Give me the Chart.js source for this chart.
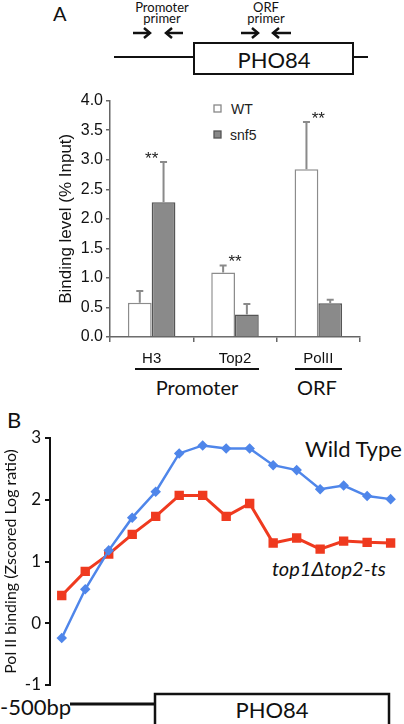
<!DOCTYPE html>
<html>
<head>
<meta charset="utf-8">
<script src="https://cdn.jsdelivr.net/npm/chart.js@4"></script>
<style>
  body { margin: 0; background: #fff; }
  #page { position: relative; width: 404px; height: 724px; overflow: hidden; }
  #deco { position: absolute; left: 0; top: 0; }
  #boxA { position: absolute; left: 0; top: 88px; width: 404px; height: 312px; }
  #boxB { position: absolute; left: 0; top: 400px; width: 404px; height: 300px; }
</style>
</head>
<body>
<div id="page">
  <svg id="deco" width="404" height="724" xmlns="http://www.w3.org/2000/svg">
    <g font-family="Lato, 'Open Sans', sans-serif" fill="#111">
      <!-- panel A gene drawing -->
      <text x="53" y="21" font-size="20">A</text>
      <text x="162" y="12" font-size="13" text-anchor="middle">Promoter</text>
      <text x="162" y="23" font-size="13" text-anchor="middle">primer</text>
      <text x="266" y="12" font-size="13" text-anchor="middle">ORF</text>
      <text x="266" y="23" font-size="13" text-anchor="middle">primer</text>
      <text x="274" y="68" font-size="22" text-anchor="middle">PHO84</text>
      <text x="197" y="395" font-size="20" text-anchor="middle">Promoter</text>
      <text x="317" y="395" font-size="20" text-anchor="middle">ORF</text>
      <!-- panel B -->
      <text x="7" y="428" font-size="22">B</text>
      <text x="305" y="457" font-size="22">Wild Type</text>
      <text x="272" y="576" font-size="20" font-style="italic">top1Δtop2-ts</text>
      <text x="0" y="715" font-size="22">-500bp</text>
      <text x="272" y="718" font-size="22" text-anchor="middle">PHO84</text>
    </g>
    <g stroke="#111" fill="none" stroke-width="2.5">
      <line x1="133" y1="33" x2="150" y2="33"/><polyline points="144,28 150,33 144,38"/>
      <line x1="166" y1="33" x2="183" y2="33"/><polyline points="172,28 166,33 172,38"/>
      <line x1="241" y1="33" x2="258" y2="33"/><polyline points="252,28 258,33 252,38"/>
      <line x1="273" y1="33" x2="291" y2="33"/><polyline points="279,28 273,33 279,38"/>
    </g>
    <g stroke="#111" fill="none" stroke-width="2">
      <line x1="114" y1="57" x2="194" y2="57"/>
      <line x1="353" y1="57" x2="368" y2="57"/>
      <rect x="194" y="43" width="159" height="31"/>
      <line x1="135" y1="369" x2="259" y2="369"/>
      <line x1="295" y1="369" x2="342" y2="369"/>
      <line x1="70" y1="704" x2="155" y2="704" stroke-width="3"/>
      <rect x="155" y="694" width="234" height="40" stroke-width="2.5"/>
    </g>
    <!-- legend of panel A -->
    <rect x="214" y="105" width="7" height="7" fill="#fff" stroke="#888" stroke-width="1.3"/>
    <rect x="214" y="131" width="7" height="7" fill="#888" stroke="#555" stroke-width="1.3"/>
    <g font-family="'Liberation Sans', Arial, sans-serif" font-size="14" fill="#222">
      <text x="231" y="114">WT</text>
      <text x="230" y="140">snf5</text>
    </g>
  </svg>
  <div id="boxA"><canvas id="chartA"></canvas></div>
  <div id="boxB"><canvas id="chartB"></canvas></div>
</div>
<script>
// panel A : binding level (% input)
var categories = ['H3', 'Top2', 'PolII'];
var wtValues = [0.58, 1.09, 2.84];
var wtErrors = [0.20, 0.12, 0.80];
var snf5Values = [2.28, 0.38, 0.57];
var snf5Errors = [0.68, 0.18, 0.06];
var stars = ['**', '**', '**'];

// panel B : Pol II binding along PHO84
var probes = [0, 1, 2, 3, 4, 5, 6, 7, 8, 9, 10, 11, 12, 13, 14];
var wildType = [-0.24, 0.55, 1.18, 1.71, 2.13, 2.75, 2.88, 2.83, 2.83, 2.56, 2.48, 2.17, 2.23, 2.06, 2.01];
var topMutant = [0.45, 0.84, 1.12, 1.44, 1.73, 2.07, 2.07, 1.73, 1.94, 1.30, 1.38, 1.20, 1.33, 1.31, 1.30];

var arial = "'Liberation Sans', Arial, sans-serif";
var lato = "Lato, 'Open Sans', sans-serif";

// error bars (upper half only) + significance stars
var errorBars = {
  id: 'errorBars',
  afterDatasetsDraw: function(chart) {
    var ctx = chart.ctx;
    var y = chart.scales.y;
    var errs = [wtErrors, snf5Errors];
    var vals = [wtValues, snf5Values];
    ctx.save();
    ctx.strokeStyle = '#8a8a8a';
    ctx.lineWidth = 2;
    for (var d = 0; d < 2; d++) {
      chart.getDatasetMeta(d).data.forEach(function(bar, i) {
        var top = y.getPixelForValue(vals[d][i] + errs[d][i]);
        ctx.beginPath();
        ctx.moveTo(bar.x, bar.y);
        ctx.lineTo(bar.x, top);
        ctx.moveTo(bar.x - 3.5, top);
        ctx.lineTo(bar.x + 3.5, top);
        ctx.stroke();
      });
    }
    ctx.fillStyle = '#222';
    ctx.font = '17px ' + arial;
    ctx.textAlign = 'center';
    ctx.textBaseline = 'alphabetic';
    stars.forEach(function(s, i) {
      var hi = Math.max(wtValues[i] + wtErrors[i], snf5Values[i] + snf5Errors[i]);
      ctx.fillText(s, chart.scales.x.getPixelForValue(i), y.getPixelForValue(hi) + 2);
    });
    ctx.restore();
  }
};

new Chart(document.getElementById('chartA'), {
  type: 'bar',
  data: {
    labels: categories,
    datasets: [{
      label: 'WT',
      data: wtValues,
      backgroundColor: '#ffffff',
      borderColor: '#8c8c8c',
      borderWidth: 1.5,
      categoryPercentage: 0.57,
      barPercentage: 1.0
    }, {
      label: 'snf5',
      data: snf5Values,
      backgroundColor: '#8a8a8a',
      borderColor: '#555555',
      borderWidth: 1.5,
      categoryPercentage: 0.57,
      barPercentage: 1.0
    }]
  },
  options: {
    responsive: true,
    maintainAspectRatio: false,
    animation: false,
    layout: { padding: { left: 0, right: 44, top: 11, bottom: 0 } },
    plugins: { legend: { display: false }, tooltip: { enabled: false } },
    scales: {
      x: {
        afterFit: function(s) { s.height = 63; },
        grid: { drawOnChartArea: false, tickLength: 5, color: '#666', lineWidth: 1.5 },
        border: { color: '#666', width: 1.5 },
        ticks: { color: '#111', font: { family: arial, size: 15 }, padding: 8 }
      },
      y: {
        min: 0,
        max: 4,
        afterFit: function(s) { s.width = 110; },
        grid: { drawOnChartArea: false, tickLength: 4, color: '#666', lineWidth: 1.5 },
        border: { color: '#666', width: 1.5 },
        ticks: {
          stepSize: 0.5,
          padding: 3,
          color: '#111',
          font: { family: arial, size: 16 },
          callback: function(v) { return v.toFixed(1); }
        },
        title: {
          display: true,
          text: 'Binding level (% Input)',
          color: '#111',
          font: { family: arial, size: 17 },
          padding: { top: 56, bottom: 0 }
        }
      }
    }
  },
  plugins: [errorBars]
});

new Chart(document.getElementById('chartB'), {
  type: 'line',
  data: {
    datasets: [{
      label: 'Wild Type',
      data: probes.map(function(p, i) { return { x: p, y: wildType[i] }; }),
      borderColor: '#4f86ea',
      backgroundColor: '#4f86ea',
      borderWidth: 2.5,
      pointStyle: 'rectRot',
      pointRadius: 3.5,
      clip: false
    }, {
      label: 'top1Δtop2-ts',
      data: probes.map(function(p, i) { return { x: p, y: topMutant[i] }; }),
      borderColor: '#ef3a1f',
      backgroundColor: '#ef3a1f',
      borderWidth: 3,
      pointStyle: 'rect',
      pointRadius: 4.5,
      clip: false
    }]
  },
  options: {
    responsive: true,
    maintainAspectRatio: false,
    animation: false,
    layout: { padding: { left: 0, right: 4, top: 38, bottom: 15 } },
    plugins: { legend: { display: false }, tooltip: { enabled: false } },
    scales: {
      x: { type: 'linear', min: -0.5, max: 14.25, display: false },
      y: {
        min: -1,
        max: 3,
        afterFit: function(s) { s.width = 50; },
        grid: { drawOnChartArea: false, tickLength: 5, color: '#111', lineWidth: 2 },
        border: { color: '#111', width: 2 },
        ticks: { stepSize: 1, padding: 4, color: '#111', font: { family: lato, size: 17 } },
        title: {
          display: true,
          text: 'Pol II binding (Zscored Log ratio)',
          color: '#111',
          font: { family: lato, size: 16 },
          padding: { top: 1, bottom: 0 }
        }
      }
    }
  }
});
</script>
</body>
</html>
